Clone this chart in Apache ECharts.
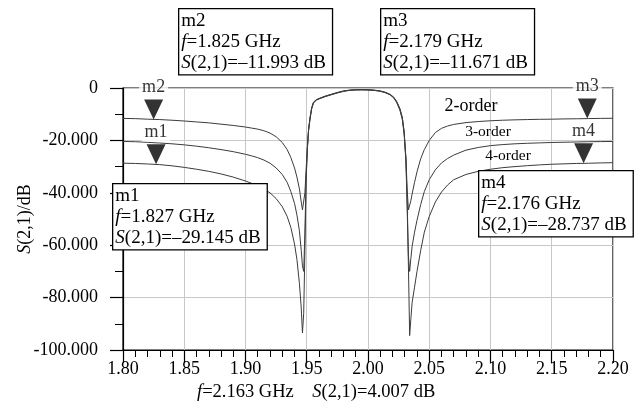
<!DOCTYPE html>
<html>
<head>
<meta charset="utf-8">
<script src="https://cdn.jsdelivr.net/npm/echarts@6/dist/echarts.min.js"></script>
<style>
  html, body { margin: 0; padding: 0; background: #fff; }
  #chart { width: 641px; height: 412px; }
</style>
</head>
<body>
<div id="chart"></div>
<script>
// frequency points (GHz)
const freq = [
  1.800, 1.810, 1.820, 1.830, 1.840, 1.850, 1.860, 1.870, 1.880, 1.890,
  1.900, 1.905, 1.910, 1.915, 1.920, 1.925, 1.930, 1.934, 1.937, 1.940,
  1.942, 1.944, 1.9455, 1.9465, 1.9475, 1.9485, 1.9495, 1.9505, 1.9515, 1.9527,
  1.954, 1.9555, 1.958, 1.961, 1.965, 1.970, 1.975, 1.980, 1.985, 1.990,
  1.995, 2.000, 2.005, 2.010, 2.014, 2.018, 2.021, 2.0235, 2.026, 2.028,
  2.0295, 2.031, 2.032, 2.033, 2.034, 2.035, 2.036, 2.038, 2.040, 2.043,
  2.046, 2.050, 2.055, 2.060, 2.065, 2.070, 2.080, 2.090, 2.100, 2.110,
  2.120, 2.130, 2.140, 2.150, 2.160, 2.170, 2.180, 2.190, 2.200
];

// S(2,1) in dB
const order2 = [
  -11.6, -11.7, -11.9, -12.05, -12.3, -12.6, -12.95, -13.3, -13.8, -14.3,
  -14.9, -15.3, -15.7, -16.3, -17.2, -18.6, -20.8, -23.5, -26.5, -30.5,
  -34.0, -38.5, -43.5, -46.5, -47.0, -40.0, -31.0, -23.0, -16.0, -11.5,
  -7.8, -5.6, -4.5, -3.9, -3.2, -2.5, -1.8, -1.2, -0.85, -0.7,
  -0.7, -0.75, -0.9, -1.2, -1.7, -2.5, -3.6, -5.4, -8.0, -11.5,
  -17.0, -27.0, -39.0, -46.5, -46.0, -43.0, -40.5, -36.0, -32.0, -27.0,
  -23.5, -20.0, -17.0, -15.4, -14.5, -13.9, -13.2, -12.8, -12.5, -12.3,
  -12.15, -12.05, -11.95, -11.9, -11.8, -11.75, -11.67, -11.6, -11.55
];
const order3 = [
  -20.4, -20.5, -20.75, -21.0, -21.3, -21.7, -22.2, -22.8, -23.5, -24.3,
  -25.3, -25.9, -26.6, -27.5, -28.7, -30.5, -33.0, -36.0, -39.5, -44.0,
  -48.5, -54.5, -62.0, -68.0, -70.0, -55.0, -34.0, -22.5, -15.7, -11.2,
  -7.6, -5.4, -4.4, -3.8, -3.1, -2.4, -1.7, -1.1, -0.8, -0.65,
  -0.6, -0.65, -0.8, -1.1, -1.6, -2.4, -3.5, -5.2, -7.8, -11.2,
  -16.5, -27.5, -44.0, -64.0, -70.0, -65.0, -60.5, -55.0, -50.5, -44.5,
  -39.5, -35.0, -31.2, -28.6, -26.9, -25.6, -23.7, -22.7, -22.0, -21.6,
  -21.3, -21.1, -20.95, -20.8, -20.7, -20.6, -20.5, -20.45, -20.4
];
const order4 = [
  -28.7, -28.8, -29.0, -29.25, -29.7, -30.3, -31.0, -31.8, -32.8, -34.0,
  -35.5, -36.4, -37.4, -38.6, -40.0, -42.2, -45.3, -49.0, -53.2, -59.5,
  -65.5, -74.5, -84.0, -93.5, -86.0, -62.0, -35.5, -23.2, -16.2, -11.8,
  -8.0, -5.7, -4.6, -4.0, -3.3, -2.6, -1.9, -1.3, -0.9, -0.75,
  -0.7, -0.75, -0.9, -1.25, -1.8, -2.6, -3.8, -5.6, -8.4, -12.0,
  -17.5, -28.5, -46.0, -68.0, -94.5, -88.0, -82.0, -76.0, -70.0, -62.0,
  -55.0, -49.0, -43.5, -39.7, -37.0, -35.0, -33.0, -31.8, -31.0, -30.4,
  -30.0, -29.65, -29.35, -29.1, -28.95, -28.8, -28.72, -28.6, -28.5
];

// markers
const markerNames = ['m1', 'm2', 'm3', 'm4'];
const markerFreq = [1.827, 1.825, 2.179, 2.176];
const markerVal = [-29.145, -11.993, -11.671, -28.737];

// curve names
const orderNames = ['2-order', '3-order', '4-order'];

// cursor readout under the axis
const readoutFreq = 2.163;
const readoutVal = 4.007;

const FONT = '"Liberation Serif", "Times New Roman", serif';

function pairs(ys) {
  return freq.map((f, i) => [f, ys[i]]);
}

function markerText(i) {
  return markerNames[i] + '\n{i|f}=' + markerFreq[i].toFixed(3) + ' GHz\n{i|S}(2,1)=\u2013' +
    Math.abs(markerVal[i]).toFixed(3) + ' dB';
}

function box(i, left, top) {
  return {
    type: 'text', left: left, top: top, z: 100,
    style: {
      text: markerText(i),
      fontSize: 19, fontFamily: FONT, fill: '#000', lineHeight: 21,
      backgroundColor: '#fff', borderColor: '#000', borderWidth: 1.3,
      padding: [1, 6, 1, 2],
      rich: { i: { fontStyle: 'italic', fontSize: 19, fontFamily: FONT, lineHeight: 21 } }
    }
  };
}

const curveStyle = { width: 1, color: '#3c3c3c' };

const chart = echarts.init(document.getElementById('chart'));
chart.setOption({
  animation: false,
  backgroundColor: '#fff',
  grid: { left: 123, right: 28, top: 88, bottom: 62, show: true, borderColor: '#000', borderWidth: 1.2 },
  xAxis: {
    type: 'value', min: 1.8, max: 2.2, interval: 0.05,
    axisLine: { onZero: false, lineStyle: { color: '#000', width: 1.2 } },
    axisTick: { length: 13, lineStyle: { color: '#000', width: 1.2 } },
    minorTick: { show: true, splitNumber: 5, length: 7, lineStyle: { color: '#000', width: 1 } },
    axisLabel: { color: '#000', fontSize: 18, fontFamily: FONT, margin: 10, formatter: v => v.toFixed(2) },
    splitLine: { show: true, lineStyle: { color: '#c8c8c8', width: 1 } }
  },
  yAxis: {
    type: 'value', min: -100, max: 0, interval: 20,
    name: '{i|S}(2,1)/dB', nameLocation: 'middle', nameRotate: 90, nameGap: 89,
    nameMoveOverlap: false,
    nameTextStyle: { color: '#000', fontSize: 18, fontFamily: FONT,
      rich: { i: { fontStyle: 'italic', fontSize: 18, fontFamily: FONT } } },
    axisLine: { lineStyle: { color: '#000', width: 1.2 } },
    axisTick: { length: 13, lineStyle: { color: '#000', width: 1.2 } },
    minorTick: { show: true, splitNumber: 2, length: 8, lineStyle: { color: '#000', width: 1 } },
    axisLabel: { color: '#000', fontSize: 18, fontFamily: FONT, margin: 25,
      formatter: v => (v === 0 ? '0' : v.toFixed(3)) },
    splitLine: { show: true, lineStyle: { color: '#c8c8c8', width: 1 } }
  },
  series: [
    { type: 'line', name: orderNames[0], data: pairs(order2), showSymbol: false, lineStyle: curveStyle, z: 3 },
    { type: 'line', name: orderNames[1], data: pairs(order3), showSymbol: false, lineStyle: curveStyle, z: 3 },
    { type: 'line', name: orderNames[2], data: pairs(order4), showSymbol: false, lineStyle: curveStyle, z: 3 },
    {
      type: 'scatter', z: 5,
      symbol: 'path://M0,0L20,0L10,20Z', symbolSize: [19, 20], symbolOffset: [0, -10],
      itemStyle: { color: '#000' },
      label: {
        show: true, position: 'top', distance: 3, formatter: '{b}',
        color: '#000', fontSize: 18, fontFamily: FONT,
        backgroundColor: '#fff', padding: [0, 3]
      },
      data: markerFreq.map((f, i) => ({ name: markerNames[i], value: [f, markerVal[i]] }))
    }
  ],
  graphic: [
    box(1, 178, 8),
    box(2, 380, 8),
    box(0, 112, 183),
    box(3, 478, 170),
    { type: 'text', x: 471, y: 106, z: 50,
      style: { text: orderNames[0], fontSize: 18, fontFamily: FONT, fill: '#000', align: 'center', verticalAlign: 'middle' } },
    { type: 'text', x: 488, y: 132, z: 50,
      style: { text: orderNames[1], fontSize: 15.5, fontFamily: FONT, fill: '#000', align: 'center', verticalAlign: 'middle' } },
    { type: 'text', x: 508, y: 156, z: 50,
      style: { text: orderNames[2], fontSize: 15.5, fontFamily: FONT, fill: '#000', align: 'center', verticalAlign: 'middle' } },
    { type: 'text', x: 197, y: 392, z: 50,
      style: {
        text: '{i|f}=' + readoutFreq.toFixed(3) + ' GHz    {i|S}(2,1)=' + readoutVal.toFixed(3) + ' dB',
        fontSize: 18.5, fontFamily: FONT, fill: '#000', verticalAlign: 'middle',
        rich: { i: { fontStyle: 'italic', fontSize: 18.5, fontFamily: FONT } }
      } }
  ]
});
</script>
</body>
</html>
